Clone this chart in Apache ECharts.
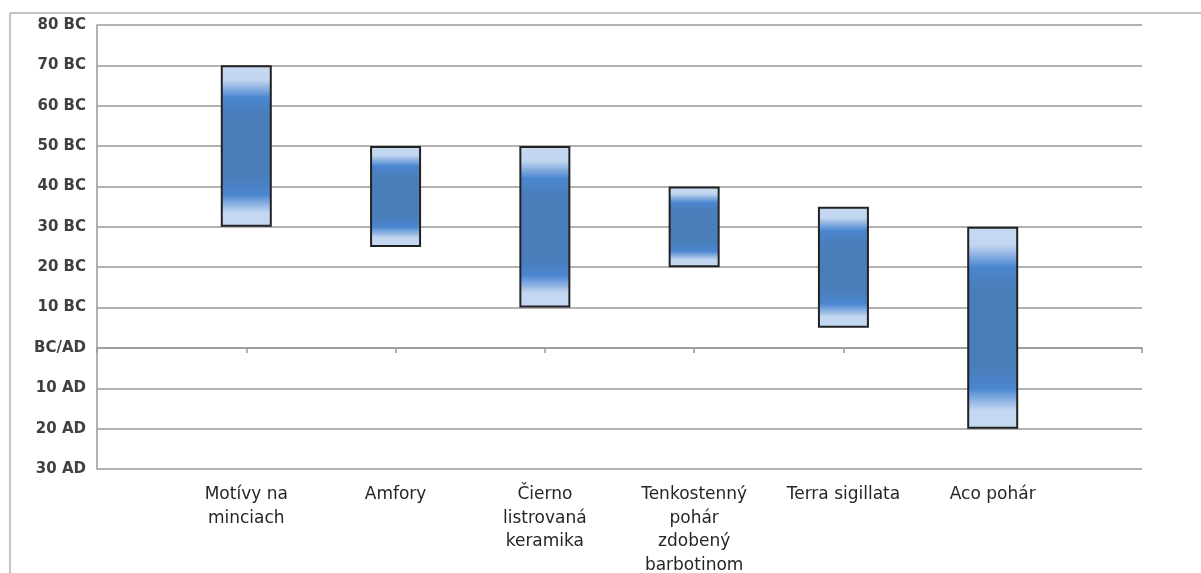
<!DOCTYPE html>
<html>
<head>
<meta charset="utf-8">
<script src="https://cdn.jsdelivr.net/npm/echarts@6/dist/echarts.min.js"></script>
<style>html,body{margin:0;padding:0;background:#fff;}#c{width:1201px;height:573px;}</style>
</head>
<body>
<div id="c"></div>
<script>
// Categories (empty slots at both ends of the axis)
var categories = ['', 'Motívy na\nminciach', 'Amfory', 'Čierno\nlistrovaná\nkeramika', 'Tenkostenný\npohár\nzdobený\nbarbotinom', 'Terra sigillata', 'Aco pohár', ''];
// Years: BC positive, AD negative
var startYear = [null, 70, 50, 50, 40, 35, 30, null];
var endYear   = [null, 30, 25, 10, 20, 5, -20, null];
var yTicks = { min: -30, max: 80, interval: 10 };

var baseData = endYear.map(function (v) { return v == null ? '-' : v; });
var spanData = startYear.map(function (s, i) { return s == null ? '-' : s - endYear[i]; });

var chart = echarts.init(document.getElementById('c'));
var grad = new echarts.graphic.LinearGradient(0, 0, 0, 1, [
  { offset: 0, color: '#c6d9f1' },
  { offset: 0.09, color: '#c3d6f0' },
  { offset: 0.2, color: '#4a86d0' },
  { offset: 0.3, color: '#4a7ebb' },
  { offset: 0.7, color: '#4a7ebb' },
  { offset: 0.8, color: '#4a86d0' },
  { offset: 0.91, color: '#c3d6f0' },
  { offset: 1, color: '#c6d9f1' }
]);
var FONT = '"DejaVu Sans", sans-serif';
chart.setOption({
  animation: false,
  backgroundColor: '#fff',
  graphic: [
    { type: 'line', shape: { x1: 10, y1: 13, x2: 1201, y2: 13 }, style: { stroke: '#b0b0b0', lineWidth: 1.5 } },
    { type: 'line', shape: { x1: 10, y1: 13, x2: 10, y2: 573 }, style: { stroke: '#b0b0b0', lineWidth: 1.5 } }
  ],
  grid: { left: 97, right: 59, top: 25, bottom: 104, containLabel: false, outerBoundsMode: 'none' },
  xAxis: [
    {
      type: 'category', data: categories, boundaryGap: false, position: 'bottom',
      axisLine: { show: false, onZero: false }, axisTick: { show: false },
      axisLabel: { interval: 0, margin: 14, color: '#262626', fontFamily: FONT, fontSize: 17, lineHeight: 23.5, align: 'center' },
      splitLine: { show: false }
    },
    {
      type: 'category', data: categories, boundaryGap: false, position: 'top',
      axisLine: { show: true, onZero: true, lineStyle: { color: '#999', width: 1.5 } },
      axisTick: { show: true, inside: true, length: 5, interval: 0, lineStyle: { color: '#999', width: 1.5 } },
      axisLabel: { show: false }, splitLine: { show: false }
    }
  ],
  yAxis: {
    type: 'value', min: yTicks.min, max: yTicks.max, interval: yTicks.interval,
    axisLine: { show: true, lineStyle: { color: '#999', width: 1.5 } },
    axisTick: { show: false },
    splitLine: { show: true, lineStyle: { color: '#999', width: 1.5 } },
    axisLabel: {
      margin: 11, color: '#404040', fontFamily: FONT, fontWeight: 'bold', fontSize: 15,
      formatter: function (v) { return v > 0 ? v + ' BC' : (v === 0 ? 'BC/AD' : (-v) + ' AD'); }
    }
  },
  series: [
    {
      type: 'bar', stack: 'r', stackStrategy: 'all', xAxisIndex: 0, data: baseData, barWidth: 51,
      itemStyle: { color: 'rgba(0,0,0,0)' }, silent: true
    },
    {
      type: 'bar', stack: 'r', stackStrategy: 'all', xAxisIndex: 0, data: spanData, barWidth: 51,
      itemStyle: { color: grad, borderColor: '#222', borderWidth: 2 }
    }
  ]
});
</script>
</body>
</html>
